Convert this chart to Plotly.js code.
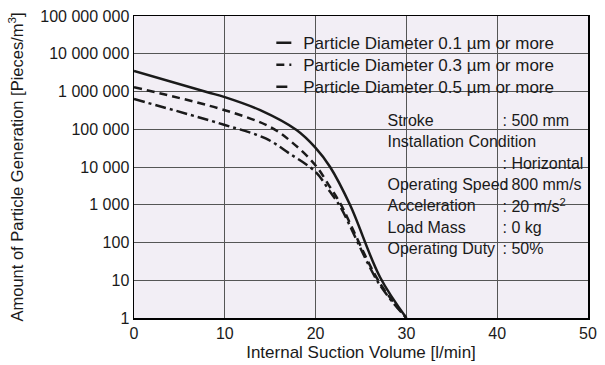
<!DOCTYPE html>
<html>
<head>
<meta charset="utf-8">
<script src="https://cdn.plot.ly/plotly-3.0.1.min.js"></script>
<style>
html,body{margin:0;padding:0;background:#fff;overflow:hidden;width:605px;height:365px;}
#chart{position:absolute;left:0;top:0;width:1210px;height:730px;transform:scale(0.5);transform-origin:0 0;}
</style>
</head>
<body>
<div id="chart"></div>
<script>
// ---- data ----
const seriesNames = [
  "Particle Diameter 0.1 \u00b5m or more",
  "Particle Diameter 0.3 \u00b5m or more",
  "Particle Diameter 0.5 \u00b5m or more"
];
const xSolid = [0, 8, 10, 13.9, 17.9, 20, 21.6, 23.8, 27.1, 30];
const ySolid = [3.5e6, 9.7e5, 7.1e5, 3.2e5, 9.5e4, 3.2e4, 1.0e4, 980, 12, 1];
const xDash = [0, 10, 15, 17.5, 20, 21.6, 22.7, 27, 30];
const yDash = [1.3e6, 3.2e5, 1.15e5, 4.3e4, 1.1e4, 2900, 1100, 9, 1];
const xDashDot = [0, 10, 14.5, 17.1, 20, 21.6, 22.7, 27, 30];
const yDashDot = [6.3e5, 1.3e5, 5.7e4, 2.3e4, 7400, 2200, 900, 8, 1];

const yTickVals = [1, 10, 100, 1000, 1e4, 1e5, 1e6, 1e7, 1e8];
const yTickText = ["1", "10", "100", "1 000", "10 000", "100 000", "1 000 000", "10 000 000", "100 000 000"];
const xTickVals = [0, 10, 20, 30, 40, 50];

const paramLabels = ["Stroke", "Installation Condition", "", "Operating Speed", "Acceleration", "Load Mass", "Operating Duty"];
const paramValues = [": 500 mm", "", ": Horizontal", ": 800 mm/s", ": 20 m/s<sup>2</sup>", ": 0 kg", ": 50%"];

const xTitle = "Internal Suction Volume [l/min]";
const yTitle = "Amount of Particle Generation [Pieces/m<sup>3</sup>]";

// ---- styling (drawn at 2x, shown at 0.5 scale) ----
const k = 2;
const font = "Arial, sans-serif";
const bg = "#f2eef5";
const ink = "#1a1a1a";
const pad = "\u00a0\u00a0";

const traces = [
  {x: xSolid, y: ySolid, name: pad + seriesNames[0], mode: "lines", legend: "legend",
   line: {color: ink, width: 2.5 * k, shape: "spline"}},
  {x: xDash, y: yDash, name: pad + seriesNames[1], mode: "lines", legend: "legend2",
   line: {color: ink, width: 2.5 * k, dash: (8 * k) + "px," + (5 * k) + "px", shape: "spline"}},
  {x: xDashDot, y: yDashDot, name: pad + seriesNames[2], mode: "lines", legend: "legend3",
   line: {color: ink, width: 2.5 * k, dash: (11 * k) + "px," + (4 * k) + "px," + (3 * k) + "px," + (4 * k) + "px", shape: "spline"}}
];

const annotations = [];
const lineStartY = 0.655, lineStep = 0.0708;
paramLabels.forEach((t, i) => {
  if (t) annotations.push({xref: "paper", yref: "paper", x: 0.556, y: lineStartY - i * lineStep,
    xanchor: "left", yanchor: "middle", text: t, showarrow: false,
    font: {family: font, size: 16 * k, color: ink}});
});
paramValues.forEach((t, i) => {
  if (t) annotations.push({xref: "paper", yref: "paper", x: 0.81, y: lineStartY - i * lineStep,
    xanchor: "left", yanchor: "middle", text: t, showarrow: false,
    font: {family: font, size: 16 * k, color: ink}});
});

function legendAt(y) {
  return {x: 0.308, y: y, xanchor: "left", yanchor: "middle",
    bgcolor: "rgba(0,0,0,0)", borderwidth: 0, font: {family: font, size: 17 * k, color: ink}};
}

const layout = {
  width: 605 * k, height: 365 * k,
  margin: {l: 134 * k, r: 17 * k, t: 16 * k, b: 47 * k},
  paper_bgcolor: "#ffffff",
  plot_bgcolor: bg,
  showlegend: true,
  legend: legendAt(0.911),
  legend2: legendAt(0.838),
  legend3: legendAt(0.765),
  xaxis: {
    range: [0, 50], tickvals: xTickVals, showgrid: true,
    gridcolor: "#555555", gridwidth: k, zeroline: false,
    showline: true, linecolor: "#000", linewidth: 1.5 * k, mirror: true,
    tickfont: {family: font, size: 16 * k, color: ink},
    title: {text: xTitle, font: {family: font, size: 17 * k, color: ink}, standoff: 4 * k}
  },
  yaxis: {
    type: "log", range: [0, 8], tickvals: yTickVals, ticktext: yTickText,
    showgrid: true, gridcolor: "#555555", gridwidth: k, zeroline: false,
    showline: true, linecolor: "#000", linewidth: 1.5 * k, mirror: true,
    tickfont: {family: font, size: 16 * k, color: ink},
    title: {text: yTitle, font: {family: font, size: 16.5 * k, color: ink}, standoff: 12 * k}
  },
  shapes: [
    {type: "rect", xref: "paper", yref: "paper", x0: 0.299, x1: 0.987, y0: 0.732, y1: 0.97,
     fillcolor: bg, line: {width: 0}, layer: "between"},
    {type: "rect", xref: "paper", yref: "paper", x0: 0.542, x1: 0.987, y0: 0.175, y1: 0.705,
     fillcolor: bg, line: {width: 0}, layer: "between"}
  ],
  annotations: annotations
};

Plotly.newPlot("chart", traces, layout, {displayModeBar: false, staticPlot: true});
</script>
</body>
</html>
